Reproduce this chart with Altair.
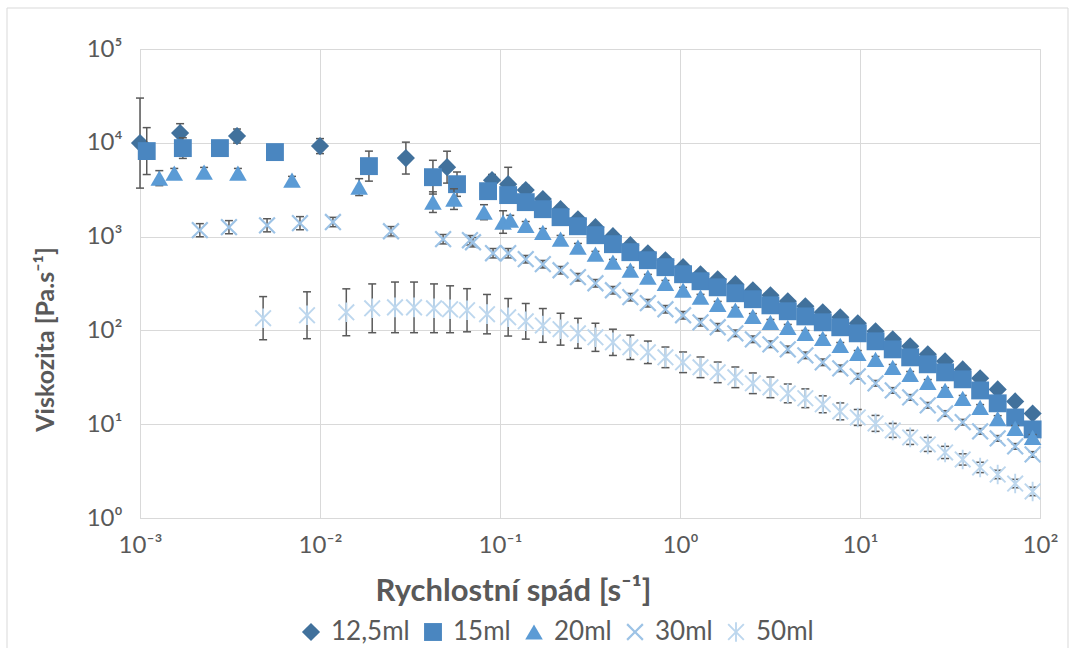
import altair as alt
import pandas as pd

# ---- data (shear rate [1/s], viscosity [Pa.s], error half-width in decades) ----
series_names = ["12,5ml", "15ml", "20ml", "30ml", "50ml"]

rate_grid = [0.111, 0.139, 0.173, 0.217, 0.271, 0.339, 0.424, 0.530, 0.663, 0.830,
             1.04, 1.30, 1.62, 2.03, 2.54, 3.18, 3.97, 4.97, 6.21, 7.77,
             9.72, 12.2, 15.2, 19.0, 23.8, 29.7, 37.2, 46.5, 58.2, 72.8, 91.0]

# 12,5ml
x_125_early = [0.00100, 0.00167, 0.00346, 0.0100, 0.0300, 0.0508, 0.0903]
y_125_early = [9930, 12700, 11800, 9220, 6870, 5500, 4000]
e_125_early = [0.48, 0.10, 0.075, 0.08, 0.17, 0.17, 0.06]
y_125_grid = [3620, 3130, 2510, 1960, 1530, 1260, 1010, 810, 665, 560,
              472, 397, 351, 311, 268, 237, 204, 181, 156, 138,
              119, 97.8, 80.4, 67.7, 55.6, 46.8, 38.4, 30.8, 23.5, 17.5, 13.0]
e_125_grid = [0.18, 0.05, 0.04, 0.04, 0.03, 0.03, 0.03, 0.03, 0.03, 0.03,
              0.03, 0.03, 0.03, 0.03, 0.03, 0.03, 0.03, 0.03, 0.03, 0.03,
              0.03, 0.03, 0.03, 0.03, 0.03, 0.03, 0.03, 0.03, 0.03, 0.03, 0.03]

# 15ml
x_15_early = [0.00109, 0.00173, 0.00278, 0.00562, 0.0187, 0.0424, 0.0577, 0.0858]
y_15_early = [8160, 8780, 8780, 7960, 5640, 4300, 3620, 3050]
e_15_early = [0.25, 0.11, 0.02, 0.02, 0.16, 0.18, 0.13, 0.05]
y_15_grid = [2770, 2330, 1960, 1610, 1290, 1035, 830, 682, 560, 472,
             397, 334, 288, 249, 215, 185, 160, 141, 122, 108,
             93.1, 76.5, 62.8, 51.6, 43.5, 35.7, 30.1, 22.9, 16.7, 11.8, 8.80]
e_15_grid = [0.05, 0.04, 0.04, 0.03, 0.03, 0.03, 0.03, 0.03, 0.03, 0.03,
             0.03, 0.03, 0.03, 0.03, 0.03, 0.03, 0.03, 0.03, 0.03, 0.03,
             0.03, 0.03, 0.03, 0.03, 0.03, 0.03, 0.03, 0.03, 0.03, 0.03, 0.03]

# 20ml (grid starts at second grid rate)
x_20_early = [0.00128, 0.00155, 0.00227, 0.00350, 0.00699, 0.0165, 0.0424, 0.0555, 0.0815, 0.104, 0.114]
y_20_early = [4200, 4750, 4870, 4750, 4000, 3370, 2330, 2510, 1820, 1430, 1500]
e_20_early = [0.08, 0.05, 0.05, 0.05, 0.04, 0.09, 0.11, 0.11, 0.08, 0.12, 0.05]
y_20_grid = [1320, 1110, 938, 771, 649, 533, 438, 369, 318, 268,
             226, 190, 164, 141, 122, 108, 93.1, 82.4, 69.3, 56.9,
             49.2, 40.4, 34.0, 27.9, 22.9, 18.9, 15.1, 11.5, 9.02, 7.23]
e_20_grid = [0.04, 0.04, 0.04, 0.04, 0.03, 0.03, 0.03, 0.03, 0.03, 0.03,
             0.03, 0.03, 0.03, 0.03, 0.03, 0.03, 0.03, 0.03, 0.03, 0.03,
             0.03, 0.03, 0.03, 0.03, 0.03, 0.03, 0.03, 0.03, 0.03, 0.03]

# 30ml
x_30_early = [0.00215, 0.00312, 0.00508, 0.00774, 0.0118, 0.0248, 0.0483, 0.0681, 0.0708, 0.0915]
y_30_early = [1170, 1260, 1320, 1390, 1430, 1140, 938, 915, 871, 665]
e_30_early = [0.07, 0.07, 0.07, 0.07, 0.05, 0.05, 0.05, 0.05, 0.05, 0.05]
y_30_grid = [665, 574, 508, 438, 369, 318, 268, 226, 195, 168,
             145, 122, 108, 93.1, 80.4, 71.1, 62.8, 54.2, 45.7, 39.4,
             32.4, 27.3, 22.9, 19.3, 15.9, 13.0, 10.5, 8.38, 7.06, 5.80, 4.76]
e_30_grid = [0.05, 0.04, 0.04, 0.04, 0.04, 0.04, 0.04, 0.04, 0.04, 0.04,
             0.04, 0.04, 0.04, 0.035, 0.035, 0.035, 0.035, 0.035, 0.035, 0.035,
             0.03, 0.03, 0.03, 0.03, 0.03, 0.03, 0.03, 0.03, 0.03, 0.03, 0.03]

# 50ml
x_50_early = [0.00483, 0.00847, 0.0140, 0.0195, 0.0261, 0.0333, 0.0430, 0.0528, 0.0656, 0.0847]
y_50_early = [135, 145, 156, 172, 176, 176, 172, 168, 164, 149]
e_50_early = [0.23, 0.25, 0.25, 0.26, 0.27, 0.27, 0.26, 0.25, 0.23, 0.21]
y_50_grid = [138, 125, 113, 103, 93.1, 84.4, 74.6, 66.0, 58.4, 51.6,
             45.7, 40.4, 35.7, 31.6, 27.3, 24.7, 21.3, 18.9, 16.3, 13.7,
             11.8, 10.2, 8.59, 7.23, 6.09, 5.00, 4.21, 3.46, 2.91, 2.33, 1.92]
e_50_grid = [0.20, 0.19, 0.18, 0.17, 0.16, 0.15, 0.14, 0.13, 0.12, 0.11,
             0.11, 0.11, 0.11, 0.11, 0.11, 0.11, 0.10, 0.10, 0.09, 0.09,
             0.085, 0.085, 0.075, 0.075, 0.075, 0.065, 0.06, 0.055, 0.045, 0.045, 0.045]

x_ticks = [0.001, 0.01, 0.1, 1, 10, 100]
y_ticks = [1, 10, 100, 1000, 10000, 100000]

colors = ["#41719C", "#4A86C0", "#5B9BD5", "#9DC3E6", "#BDD7EE"]
X_PATH = ("M-0.82,-1L0,-0.18L0.82,-1L1,-0.82L0.18,0L1,0.82L0.82,1L0,0.18"
          "L-0.82,1L-1,0.82L-0.18,0L-1,-0.82Z")
AST_PATH = ("M-0.84,-1L0,-0.16L0.84,-1L1,-0.84L0.16,0L1,0.84L0.84,1L0,0.16"
            "L-0.84,1L-1,0.84L-0.16,0L-1,-0.84Z"
            "M-0.11,-1.15L0.11,-1.15L0.11,1.15L-0.11,1.15Z")
shapes = ["diamond", "square", "triangle-up", X_PATH, AST_PATH]
sizes = [330, 290, 400, 300, 290]

series_data = [
    (x_125_early + rate_grid, y_125_early + y_125_grid, e_125_early + e_125_grid),
    (x_15_early + rate_grid, y_15_early + y_15_grid, e_15_early + e_15_grid),
    (x_20_early + rate_grid[1:], y_20_early + y_20_grid, e_20_early + e_20_grid),
    (x_30_early + rate_grid, y_30_early + y_30_grid, e_30_early + e_30_grid),
    (x_50_early + rate_grid, y_50_early + y_50_grid, e_50_early + e_50_grid),
]

GREY = "#595959"
GRID = "#D9D9D9"
FONT = "Lato"

x_scale = alt.Scale(type="log", domain=[0.001, 100], nice=False)
y_scale = alt.Scale(type="log", domain=[1, 100000], nice=False)

x_axis = alt.Axis(
    values=x_ticks,
    labelExpr="'10' + ['\u207b\u00b3','\u207b\u00b2','\u207b\u00b9','\u2070','\u00b9','\u00b2'][round(log(datum.value)/LN10)+3]",
    grid=True, gridColor=GRID, domainColor=GRID, ticks=False,
    labelFont=FONT, labelFontSize=24, labelColor=GREY, labelPadding=15,
    labelFlush=False, labelOverlap=False,
    title="Rychlostní spád [s\u207b\u00b9]", titleFont=FONT, titleFontSize=31,
    titleFontWeight="bold", titleColor=GREY, titleX=373, titleY=73,
    titleBaseline="middle", titleAlign="center",
)
y_axis = alt.Axis(
    values=y_ticks,
    labelExpr="'10' + ['\u2070','\u00b9','\u00b2','\u00b3','\u2074','\u2075'][round(log(datum.value)/LN10)]",
    grid=True, gridColor=GRID, domainColor=GRID, ticks=False,
    labelFont=FONT, labelFontSize=24, labelColor=GREY, labelPadding=18,
    labelOverlap=False,
    title="Viskozita [Pa.s\u207b\u00b9]", titleFont=FONT, titleFontSize=25,
    titleFontWeight="bold", titleColor=GREY, titleX=-95, titleY=290,
    titleAngle=-90, titleAlign="center", titleBaseline="middle",
)

legend = alt.Legend(
    orient="none", legendX=158, legendY=570, direction="horizontal",
    title=None, labelFont=FONT, labelFontSize=26, labelColor=GREY,
    symbolSize=260, symbolStrokeWidth=0, columnPadding=10, labelOffset=7,
)

layers = []

frame = alt.Chart(pd.DataFrame({"a": [0]})).mark_rect(
    filled=False, stroke=GRID, strokeWidth=1
).encode(
    x=alt.value(-133), x2=alt.value(928), y=alt.value(-41), y2=alt.value(620)
)
layers.append(frame)

for name, (xs, ys, es) in zip(series_names, series_data):
    df = pd.DataFrame({"series": name, "rate": xs, "visc": ys, "err": es})
    df["lo"] = df["visc"] / (10 ** df["err"])
    df["hi"] = df["visc"] * (10 ** df["err"])
    base = alt.Chart(df)
    X = alt.X("rate:Q", scale=x_scale, axis=x_axis)
    bar = base.mark_rule(color=GREY, strokeWidth=1.5).encode(
        x=X,
        y=alt.Y("lo:Q", scale=y_scale, axis=y_axis),
        y2="hi:Q",
    )
    cap_hi = base.mark_rule(color=GREY, strokeWidth=1.5, xOffset=-4, x2Offset=4).encode(
        x=X, x2="rate:Q",
        y=alt.Y("hi:Q", scale=y_scale, axis=y_axis),
    )
    cap_lo = base.mark_rule(color=GREY, strokeWidth=1.5, xOffset=-4, x2Offset=4).encode(
        x=X, x2="rate:Q",
        y=alt.Y("lo:Q", scale=y_scale, axis=y_axis),
    )
    pts = base.mark_point(filled=True, opacity=1, strokeWidth=0).encode(
        x=X,
        y=alt.Y("visc:Q", scale=y_scale, axis=y_axis),
        color=alt.Color("series:N", scale=alt.Scale(domain=series_names, range=colors),
                        legend=legend),
        shape=alt.Shape("series:N", scale=alt.Scale(domain=series_names, range=shapes),
                        legend=legend),
        size=alt.Size("series:N", scale=alt.Scale(domain=series_names, range=sizes), legend=None),
    )
    layers += [bar, cap_hi, cap_lo, pts]

chart = alt.layer(*layers).properties(
    width=900, height=469,
    autosize=alt.AutoSizeParams(type="none"),
    padding={"left": 140, "top": 49, "right": 36, "bottom": 130},
    background="white",
).configure_view(stroke=None).configure(font=FONT)

chart.save("out.html", embed_options={"renderer": "svg", "actions": False})
